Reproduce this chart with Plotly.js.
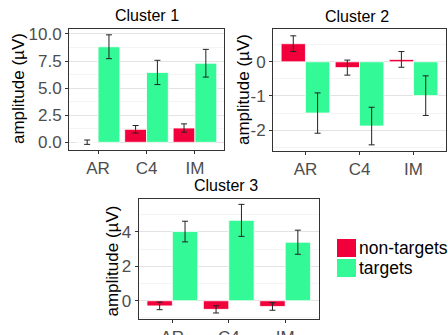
<!DOCTYPE html>
<html><head><meta charset="utf-8">
<script src="https://cdn.plot.ly/plotly-3.0.1.min.js"></script>
<style>html,body{margin:0;padding:0;background:#fff}#chart{width:448px;height:335px}</style>
</head><body><div id="chart"></div>
<script>
const categories = ['AR', 'C4', 'IM'];
const seriesNames = ['non-targets', 'targets'];
const panelTitles = ['Cluster 1', 'Cluster 2', 'Cluster 3'];
const yTitle = 'amplitude (µV)';

const c1Non = [0.01, 1.2, 1.32];
const c1NonErr = [0.2, 0.35, 0.38];
const c1Tgt = [8.82, 6.45, 7.3];
const c1TgtErr = [1.1, 1.12, 1.28];

const c2Non = [0.53, -0.17, 0.07];
const c2NonErr = [0.23, 0.22, 0.23];
const c2Tgt = [-1.5, -1.88, -0.99];
const c2TgtErr = [0.59, 0.55, 0.58];

const c3Non = [-0.3, -0.5, -0.33];
const c3NonErr = [0.22, 0.21, 0.22];
const c3Tgt = [4.02, 4.67, 3.4];
const c3TgtErr = [0.6, 0.93, 0.7];

const c1TickVals = [0, 2.5, 5, 7.5, 10];
const c1TickText = ['0.0', '2.5', '5.0', '7.5', '10.0'];
const c2TickVals = [-2, -1, 0];
const c2TickText = ['-2', '-1', '0'];
const c3TickVals = [0, 2, 4];
const c3TickText = ['0', '2', '4'];

const colors = ['#F2003C', '#33F996'];
const W = 448, H = 335;
const px = v => v / W, py = v => 1 - v / H;

const panels = [
  {non: c1Non, nonErr: c1NonErr, tgt: c1Tgt, tgtErr: c1TgtErr, xa: 'x', ya: 'y'},
  {non: c2Non, nonErr: c2NonErr, tgt: c2Tgt, tgtErr: c2TgtErr, xa: 'x2', ya: 'y2'},
  {non: c3Non, nonErr: c3NonErr, tgt: c3Tgt, tgtErr: c3TgtErr, xa: 'x3', ya: 'y3'}
];

const traces = [];
panels.forEach(p => {
  [[p.non, p.nonErr, 0], [p.tgt, p.tgtErr, 1]].forEach(([vals, errs, i]) => {
    traces.push({
      type: 'bar', x: categories, y: vals, name: seriesNames[i],
      xaxis: p.xa, yaxis: p.ya, showlegend: false,
      marker: {color: colors[i], line: {color: '#ffffff', width: 0.8}},
      error_y: {type: 'data', array: errs, visible: true, color: '#222', thickness: 1, width: 3}
    });
  });
});

const tickFont = {family: 'Liberation Sans, Arial, sans-serif', size: 17, color: '#4D4D4D'};
function xAxis(domain) {
  return {domain: domain, type: 'category', range: [-0.6, 2.6], showgrid: false, zeroline: false,
    showline: true, mirror: true, linecolor: '#333', linewidth: 1, ticks: 'outside', ticklen: 3,
    tickcolor: '#333', tickfont: tickFont, fixedrange: true};
}
function yAxis(domain, range, tv, tt, anchor, minorStep) {
  return {domain: domain, range: range, tickmode: 'array', tickvals: tv, ticktext: tt,
    showgrid: true, gridcolor: '#E3E3E3', gridwidth: 1, zeroline: false,
    minor: {dtick: minorStep, tick0: 0, showgrid: true, gridcolor: '#EDEDED', gridwidth: 0.6, ticks: ''},
    showline: true, mirror: true, linecolor: '#333', linewidth: 1, ticks: 'outside', ticklen: 3,
    tickcolor: '#333', tickfont: tickFont, anchor: anchor, fixedrange: true};
}

const titleFont = {family: 'Liberation Sans, Arial, sans-serif', size: 16, color: '#000'};
const axTitleFont = {family: 'Liberation Sans, Arial, sans-serif', size: 17, color: '#000'};
const annotations = [
  {text: panelTitles[0], x: px(147), y: py(15)},
  {text: panelTitles[1], x: px(357), y: py(16.5)},
  {text: panelTitles[2], x: px(226), y: py(185.5)}
].map(a => Object.assign(a, {xref: 'paper', yref: 'paper', showarrow: false, font: titleFont,
  xanchor: 'center', yanchor: 'middle'}));

[[19, 89], [243, 90], [111.5, 261]].forEach(([x, y]) => {
  annotations.push({text: yTitle, x: px(x), y: py(y), xref: 'paper', yref: 'paper', showarrow: false,
    textangle: -90, font: axTitleFont, xanchor: 'center', yanchor: 'middle'});
});

const shapes = [];
[[239, 257], [259, 277]].forEach(([t, b], i) => {
  shapes.push({type: 'rect', xref: 'paper', yref: 'paper', x0: px(337), x1: px(356), y0: py(b), y1: py(t),
    fillcolor: colors[i], line: {width: 0}});
  annotations.push({text: seriesNames[i], x: px(356.5), y: py((t + b) / 2), xref: 'paper', yref: 'paper',
    showarrow: false, xanchor: 'left', yanchor: 'middle',
    font: {family: 'Liberation Sans, Arial, sans-serif', size: 17.5, color: '#000'}});
});

const layout = {
  width: W, height: H, margin: {l: 0, r: 0, t: 0, b: 0},
  paper_bgcolor: '#fff', plot_bgcolor: '#fff',
  barmode: 'group', bargap: 0.1, bargroupgap: 0,
  showlegend: false,
  xaxis: xAxis([px(69), px(224)]),
  yaxis: yAxis([py(150), py(29)], [-0.71, 10.46], c1TickVals, c1TickText, 'x', 1.25),
  xaxis2: Object.assign(xAxis([px(273), px(446)]), {anchor: 'y2'}),
  yaxis2: yAxis([py(151), py(29)], [-2.61, 0.96], c2TickVals, c2TickText, 'x2', 0.5),
  xaxis3: Object.assign(xAxis([px(138.5), px(319)]), {anchor: 'y3'}),
  yaxis3: yAxis([py(319), py(198.5)], [-1.06, 5.94], c3TickVals, c3TickText, 'x3', 1),
  annotations: annotations, shapes: shapes
};
layout.xaxis.anchor = 'y';

Plotly.newPlot('chart', traces, layout, {displayModeBar: false, staticPlot: true});
</script></body></html>
